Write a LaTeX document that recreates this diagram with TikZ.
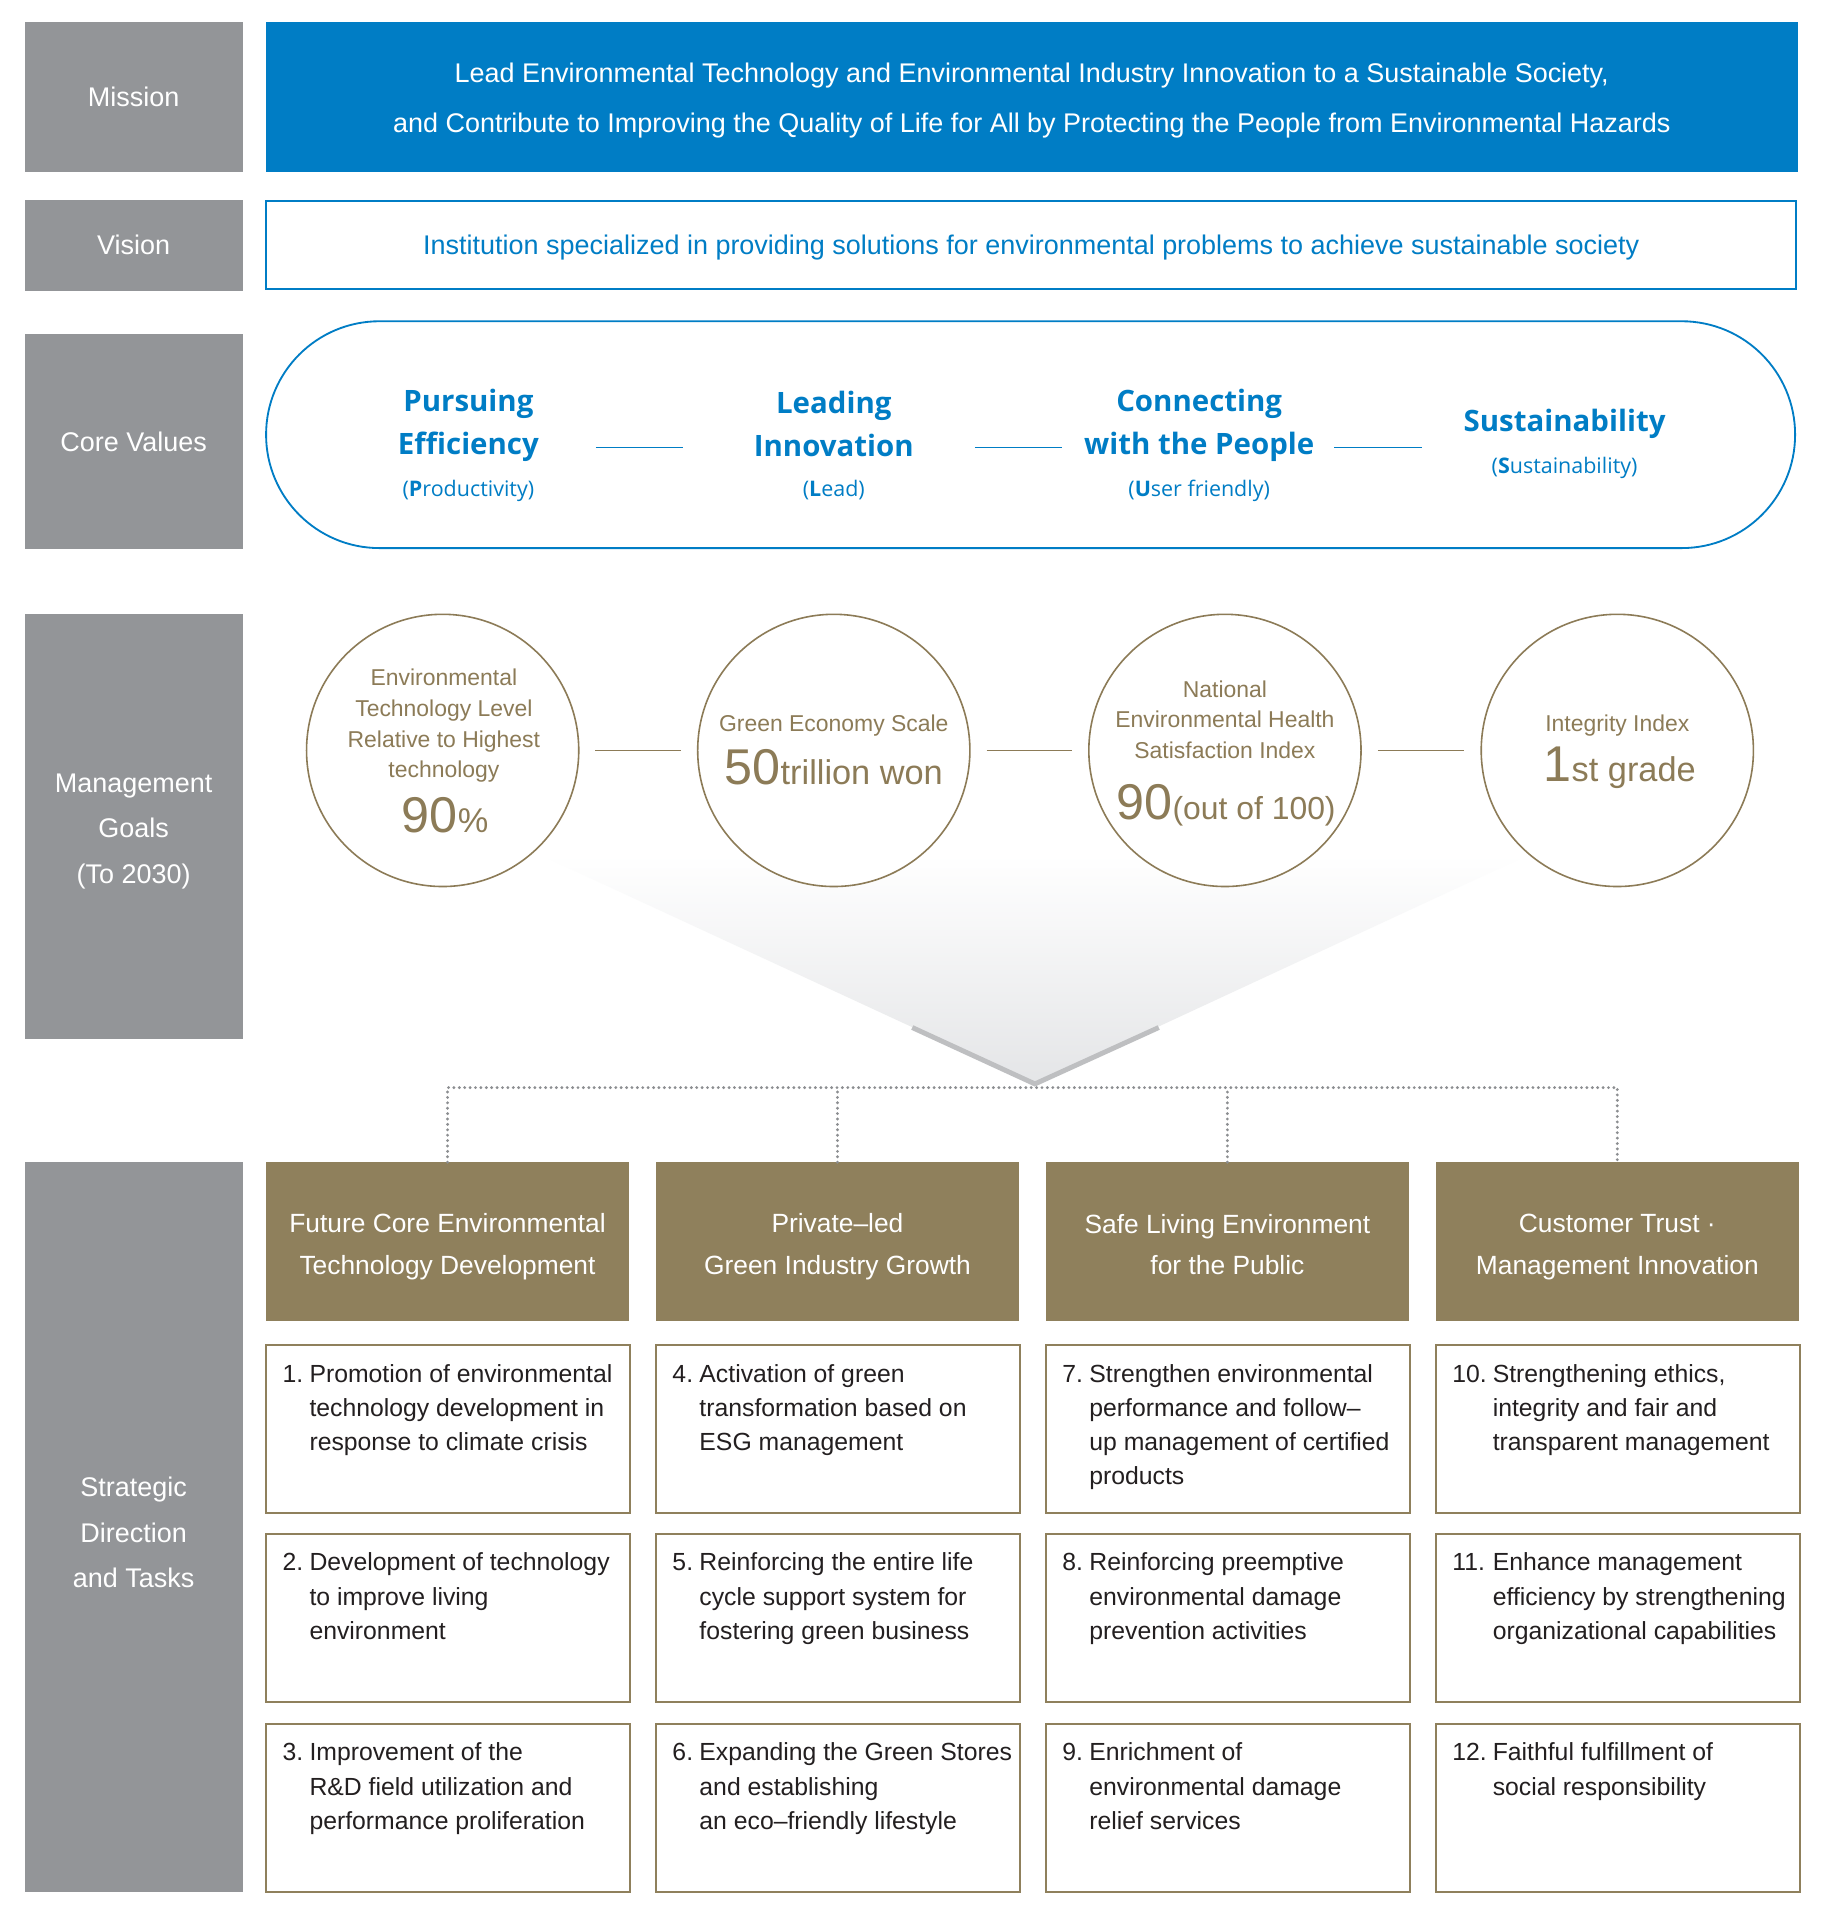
\documentclass[tikz,border=0pt]{standalone}
\usepackage{fontspec}
\setmainfont{Liberation Sans}
\newfontfamily\cvfont{Open Sans}

\definecolor{labelgray}{RGB}{147,149,152}
\definecolor{kblue}{RGB}{0,125,197}
\definecolor{headbrown}{RGB}{143,128,92}
\definecolor{goalbrown}{RGB}{140,123,87}
\definecolor{taskdark}{RGB}{35,31,32}
\definecolor{funnelgray}{RGB}{228,229,231}
\definecolor{vgray}{RGB}{190,191,193}
\definecolor{dotgray}{RGB}{140,142,145}

% hanging numbers for the task lists
\newcommand{\nA}[1]{\makebox[22pt][l]{#1}}
\newcommand{\iA}{\hspace*{22pt}}
\newcommand{\nB}[1]{\makebox[33pt][l]{#1}}
\newcommand{\iB}{\hspace*{33pt}}

\begin{document}
\begin{tikzpicture}[x=1pt,y=-1pt,
	labelbox/.style={fill=labelgray, text=white, minimum width=178, inner sep=0, align=center, font=\fontsize{22}{37}\selectfont},
	headbox/.style={fill=headbrown, text=white, minimum width=296, minimum height=129, inner sep=0, align=center, font=\fontsize{21.5}{34}\selectfont},
	taskbox/.style={draw=headbrown, line width=1.5, minimum width=297, minimum height=137, inner sep=0},
	tasktext/.style={anchor=north west, inner sep=0, align=left, text=taskdark, font=\fontsize{20.2}{28}\selectfont},
	goal/.style={circle, draw=goalbrown, line width=1.3, fill=white, minimum size=222, inner sep=0},
	goaltext/.style={text=goalbrown, align=center, inner sep=0, font=\fontsize{18.7}{25}\selectfont},
	cvtitle/.style={text=kblue, align=center, inner sep=0, font=\cvfont\bfseries\fontsize{24}{35}\selectfont},
	cvsub/.style={text=kblue, inner sep=0, font=\cvfont\fontsize{17.5}{22}\selectfont},
	cvline/.style={draw=kblue, line width=1.5},
	goalline/.style={draw=goalbrown, line width=1.3, shorten >=13, shorten <=13},
	dotline/.style={draw=dotgray, line width=2.6, line cap=round, dash pattern=on 0pt off 4.4pt}]

	% page
	\fill[white] (0,0) rectangle (1486,1567.5);
	\useasboundingbox (0,0) rectangle (1486,1567.5);

	% left labels
	\node[labelbox, minimum height=122] (lmission) at (109,79) {Mission};
	\node[labelbox, minimum height=74] (lvision) at (109,200) {Vision};
	\node[labelbox, minimum height=176] (lcore) at (109,360) {Core Values};
	\node[labelbox, minimum height=346] (lgoals) at (109,674) {};
	\node[labelbox] (lgoalst) at (109,678) {Management\\Goals\\(To 2030)};
	\node[labelbox, minimum height=595] (lstrat) at (109,1245.5) {};
	\node[labelbox] (lstratt) at (109,1250) {Strategic\\Direction\\and Tasks};

	% mission and vision
	\node[fill=kblue, minimum width=1249, minimum height=122, inner sep=0] (mission) at (841.5,79) {};
	\node[text=white, inner sep=0, align=center, font=\fontsize{22}{40}\selectfont] (missiont) at (841.5,82)
		{Lead Environmental Technology and Environmental Industry Innovation to a Sustainable Society,\\
		and Contribute to Improving the Quality of Life for All by Protecting the People from Environmental Hazards};
	\node[draw=kblue, line width=1.5, minimum width=1248, minimum height=72, inner sep=0] (vision) at (841,200) {};
	\node[text=kblue, inner sep=0, font=\fontsize{22}{24}\selectfont] (visiont) at (841,202)
		{Institution specialized in providing solutions for environmental problems to achieve sustainable society};

	% core values
	\node[draw=kblue, line width=1.5, minimum width=1247, minimum height=185, rounded corners=92.5] (core) at (840.5,354.5) {};
	\node[cvtitle] (cv1) at (382,347) {Pursuing\\Efficiency};
	\node[cvsub] (cv1s) at (382,400) {(\textbf{P}roductivity)};
	\node[cvtitle] (cv2) at (680,346) {Leading\\Innovation};
	\node[cvsub] (cv2s) at (680,400) {(\textbf{L}ead)};
	\node[cvtitle] (cv3) at (978,347) {Connecting\\with the People};
	\node[cvsub] (cv3s) at (978,400) {(\textbf{U}ser friendly)};
	\node[cvtitle] (cv4) at (1276,346) {Sustainability};
	\node[cvsub] (cv4s) at (1276,382) {(\textbf{S}ustainability)};
	\coordinate (c1a) at (486,365); \coordinate (c1b) at (557,365);
	\coordinate (c2a) at (795,365); \coordinate (c2b) at (866,365);
	\coordinate (c3a) at (1088,365); \coordinate (c3b) at (1160,365);
	\draw[cvline] (c1a) -- (c1b);
	\draw[cvline] (c2a) -- (c2b);
	\draw[cvline] (c3a) -- (c3b);

	% funnel behind the goals
	\coordinate (apex) at (844,884);
	\shade[top color=white, bottom color=funnelgray] (440,697) -- (1247,697) -- (apex) -- cycle;
	\draw[vgray, line width=4, line join=miter] (744,838) -- (apex) -- (945,838);

	% management goals
	\node[goal] (g1) at (361,612) {};
	\node[goal] (g2) at (680,612) {};
	\node[goal] (g3) at (999,612) {};
	\node[goal] (g4) at (1319,612) {};
	\node[goaltext] (g1t) at (362,592) {Environmental\\Technology Level\\Relative to Highest\\technology};
	\node[goaltext] (g1n) at (363,665) {\fontsize{41}{41}\selectfont 90\fontsize{28}{28}\selectfont\%};
	\node[goaltext] (g2t) at (680,592) {Green Economy Scale};
	\node[goaltext] (g2n) at (680,626) {\fontsize{41}{41}\selectfont 50\fontsize{28}{28}\selectfont trillion won};
	\node[goaltext] (g3t) at (999,587) {National\\Environmental Health\\Satisfaction Index};
	\node[goaltext] (g3n) at (1000,657) {\fontsize{41}{41}\selectfont 90\fontsize{26}{26}\selectfont(out of 100)};
	\node[goaltext] (g4t) at (1319,592) {Integrity Index};
	\node[goaltext] (g4n) at (1321,626) {\fontsize{41}{41}\selectfont 1\fontsize{28}{28}\selectfont st grade};
	\draw[goalline] (g1) -- (g2);
	\draw[goalline] (g2) -- (g3);
	\draw[goalline] (g3) -- (g4);

	% strategic directions
	\node[headbox] (h1) at (365,1012.5) {};
	\node[headbox] (h2) at (683,1012.5) {};
	\node[headbox] (h3) at (1001,1012.5) {};
	\node[headbox] (h4) at (1319,1012.5) {};
	\node[headbox, fill=none, minimum height=0] (h1t) at (365,1017) {Future Core Environmental\\Technology Development};
	\node[headbox, fill=none, minimum height=0] (h2t) at (683,1017) {Private–led\\Green Industry Growth};
	\node[headbox, fill=none, minimum height=0] (h3t) at (1001,1015) {Safe Living Environment\\for the Public};
	\node[headbox, fill=none, minimum height=0] (h4t) at (1319,1017) {Customer Trust ·\\Management Innovation};
	\coordinate (bar) at (844,887);
	\draw[dotline] (h1.north) |- (bar) -| (h4.north);
	\draw[dotline] (h2.north) -- (h2.north |- bar);
	\draw[dotline] (h3.north) -- (h3.north |- bar);

	% task boxes
	\foreach \col/\x in {1/365.5, 2/683.5, 3/1001.5, 4/1319.5}
		\foreach \row/\y in {1/1165.5, 2/1319.5, 3/1474.5}
			\node[taskbox] (t\col\row) at (\x,\y) {};

	% task texts
	\node[tasktext] (tt11) at ([xshift=14,yshift=-16]t11.north west) {\nA{1.}Promotion of environmental\\\iA technology development in\\\iA response to climate crisis};
	\node[tasktext] (tt12) at ([xshift=14,yshift=-16]t12.north west) {\nA{2.}Development of technology\\\iA to improve living\\\iA environment};
	\node[tasktext] (tt13) at ([xshift=14,yshift=-16]t13.north west) {\nA{3.}Improvement of the\\\iA R\&D field utilization and\\\iA performance proliferation};
	\node[tasktext] (tt21) at ([xshift=14,yshift=-16]t21.north west) {\nA{4.}Activation of green\\\iA transformation based on\\\iA ESG management};
	\node[tasktext] (tt22) at ([xshift=14,yshift=-16]t22.north west) {\nA{5.}Reinforcing the entire life\\\iA cycle support system for\\\iA fostering green business};
	\node[tasktext] (tt23) at ([xshift=14,yshift=-16]t23.north west) {\nA{6.}Expanding the Green Stores\\\iA and establishing\\\iA an eco–friendly lifestyle};
	\node[tasktext] (tt31) at ([xshift=14,yshift=-16]t31.north west) {\nA{7.}Strengthen environmental\\\iA performance and follow–\\\iA up management of certified\\\iA products};
	\node[tasktext] (tt32) at ([xshift=14,yshift=-16]t32.north west) {\nA{8.}Reinforcing preemptive\\\iA environmental damage\\\iA prevention activities};
	\node[tasktext] (tt33) at ([xshift=14,yshift=-16]t33.north west) {\nA{9.}Enrichment of\\\iA environmental damage\\\iA relief services};
	\node[tasktext] (tt41) at ([xshift=14,yshift=-16]t41.north west) {\nB{10.}Strengthening ethics,\\\iB integrity and fair and\\\iB transparent management};
	\node[tasktext] (tt42) at ([xshift=14,yshift=-16]t42.north west) {\nB{11.}Enhance management\\\iB efficiency by strengthening\\\iB organizational capabilities};
	\node[tasktext] (tt43) at ([xshift=14,yshift=-16]t43.north west) {\nB{12.}Faithful fulfillment of\\\iB social responsibility};
\end{tikzpicture}
\end{document}
